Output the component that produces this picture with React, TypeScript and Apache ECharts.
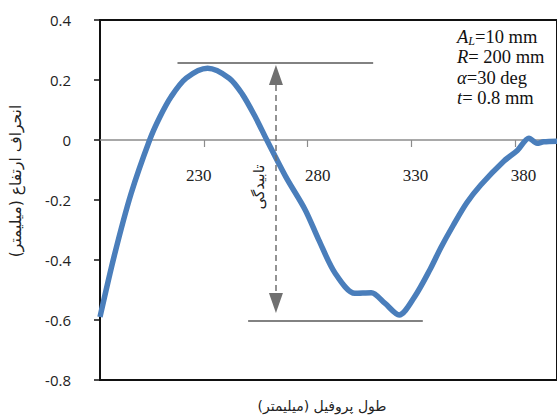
import React, { useEffect, useRef } from "react";
import * as echarts from "echarts";

const xValues = [180, 186.9, 194.9, 203.9, 208.7, 214.3, 221.5, 231.8, 242.2, 248.5, 254.9, 260.3, 269.4, 278.8, 285.3, 293.2, 302.7, 310.6, 317.1, 324, 331.5, 339, 344, 350, 356.5, 363.3, 374.5, 380.9, 386.5, 390.4, 393.6, 400];
const yValues = [-0.59, -0.385, -0.18, 0, 0.075, 0.145, 0.206, 0.239, 0.206, 0.153, 0.075, 0, -0.122, -0.233, -0.333, -0.444, -0.511, -0.509, -0.544, -0.583, -0.522, -0.43, -0.36, -0.285, -0.21, -0.15, -0.07, -0.035, 0.006, -0.011, -0.006, -0.004];

const xTicks = [230, 280, 330, 380];
const xTickLabelShift = [-5, 10, 4, 8];
const yAxisTitle = "انحراف ارتفاع (میلیمتر)";
const xAxisTitle = "طول پروفیل (میلیمتر)";
const warpLabel = "تابیدگی";

// annotation geometry in data units
const topLine = { x1: 217.3, x2: 311.5, y: 0.257 };
const bottomLine = { x1: 251.3, x2: 335.4, y: -0.602 };
const arrow = { x: 264.7, yTop: 0.217, yBottom: -0.543 };

export default function App() {
  const ref = useRef<HTMLDivElement>(null);
  useEffect(() => {
    if (!ref.current) return;
    const chart = echarts.init(ref.current, null, { renderer: "svg" });
    const data = xValues.map((x, i) => [x, yValues[i]]);
    const grey = "#595959";
    const labelRich: Record<string, any> = {};
    xTicks.forEach((t, i) => {
      const s = xTickLabelShift[i];
      labelRich["t" + i] = {
        fontFamily: "Liberation Serif",
        fontSize: 17,
        color: "#222",
        padding: s >= 0 ? [0, 0, 0, 2 * s] : [0, -2 * s, 0, 0],
      };
    });
    chart.setOption({
      animation: false,
      backgroundColor: "#fff",
      grid: {
        left: 100,
        right: -3,
        top: 20,
        bottom: 37,
        show: true,
        borderColor: "#111",
        borderWidth: 2,
      },
      xAxis: {
        type: "value",
        min: 180,
        max: 400,
        interval: 50,
        position: "bottom",
        offset: -240,
        axisLine: { show: true, onZero: false, lineStyle: { color: "#8c8c8c", width: 1.5 } },
        axisTick: { show: true, length: 7, lineStyle: { color: "#8c8c8c", width: 1.2 } },
        splitLine: { show: false },
        axisLabel: {
          margin: 27,
          fontFamily: "Liberation Serif",
          fontSize: 17,
          color: "#222",
          showMinLabel: false,
          showMaxLabel: false,
          rich: labelRich,
          formatter: (v: number) => {
            const i = xTicks.indexOf(v);
            return i >= 0 ? `{t${i}|${v}}` : "";
          },
        },
      },
      yAxis: {
        type: "value",
        min: -0.8,
        max: 0.4,
        interval: 0.2,
        axisLine: { show: true, onZero: false, lineStyle: { color: "#111", width: 2 } },
        axisTick: { show: true, length: 6, lineStyle: { color: "#111", width: 1.5 } },
        splitLine: { show: false },
        axisLabel: {
          margin: 29,
          fontFamily: "Open Sans",
          fontSize: 15,
          color: "#222",
          formatter: (v: number) => (Math.abs(v) < 1e-9 ? "0" : v.toFixed(1)),
        },
      },
      series: [
        {
          type: "line",
          data,
          smooth: 0.3,
          symbol: "none",
          lineStyle: { color: "#4A7EBB", width: 5.5 },
          z: 3,
          markLine: {
            silent: true,
            animation: false,
            label: { show: false },
            emphasis: { disabled: true },
            data: [
              [
                { coord: [topLine.x1, topLine.y], symbol: "none", lineStyle: { color: grey, width: 1.5, type: "solid" } },
                { coord: [topLine.x2, topLine.y], symbol: "none" },
              ],
              [
                { coord: [bottomLine.x1, bottomLine.y], symbol: "none", lineStyle: { color: grey, width: 1.5, type: "solid" } },
                { coord: [bottomLine.x2, bottomLine.y], symbol: "none" },
              ],
              [
                {
                  coord: [arrow.x, arrow.yTop],
                  symbol: "triangle",
                  symbolSize: [14, 20],
                  lineStyle: { color: "#707070", width: 1.5, type: [6, 4] },
                  itemStyle: { color: "#3a3a3a" },
                },
                { coord: [arrow.x, arrow.yBottom], symbol: "triangle", symbolSize: [14, 20], itemStyle: { color: "#3a3a3a" } },
              ],
            ],
          },
        },
      ],
      graphic: [
        {
          type: "text",
          x: 16,
          y: 181,
          rotation: Math.PI / 2,
          style: {
            text: yAxisTitle,
            fontFamily: "DejaVu Sans",
            fontSize: 15.5,
            fill: "#222",
            align: "center",
            verticalAlign: "middle",
          },
        },
        {
          type: "text",
          x: 322,
          y: 406,
          style: {
            text: xAxisTitle,
            fontFamily: "DejaVu Sans",
            fontSize: 14,
            fill: "#222",
            align: "center",
            verticalAlign: "middle",
          },
        },
        {
          type: "text",
          x: 259,
          y: 187,
          rotation: Math.PI / 2,
          style: {
            text: warpLabel,
            fontFamily: "DejaVu Sans",
            fontSize: 15,
            fill: "#222",
            align: "center",
            verticalAlign: "middle",
          },
        },
        {
          type: "text",
          x: 457,
          y: 27,
          style: {
            text: "{i|A}{sub|L}{n|=10 mm}\n{i|R}{n|= 200 mm}\n{i|α}{n|=30 deg}\n{i|t}{n|= 0.8 mm}",
            fontFamily: "Liberation Serif",
            fontSize: 18.5,
            fill: "#111",
            lineHeight: 20.3,
            rich: {
              i: { fontFamily: "Liberation Serif", fontStyle: "italic", fontSize: 18.5, fill: "#111", lineHeight: 20.3 },
              sub: { fontFamily: "Liberation Serif", fontStyle: "italic", fontSize: 12, fill: "#111", lineHeight: 20.3, verticalAlign: "bottom", padding: [5, 0, 0, 0] },
              n: { fontFamily: "Liberation Serif", fontSize: 18.5, fill: "#111", lineHeight: 20.3 },
            },
          },
        },
      ],
    });
    return () => chart.dispose();
  }, []);
  return <div ref={ref} style={{ position: "fixed", left: 0, top: 0, width: 557, height: 417 }} />;
}
